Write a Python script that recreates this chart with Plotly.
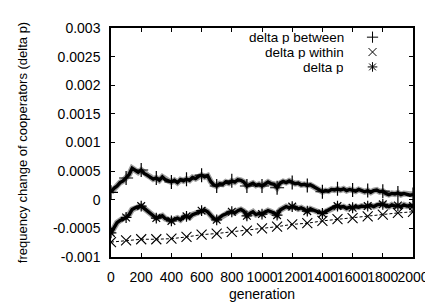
import plotly.graph_objects as go

# ---------------- data ----------------
gen_fine = list(range(0, 2001, 20))
between = [
    0.00013, 0.00020, 0.00024, 0.00030, 0.00033, 0.00038, 0.00044, 0.00055, 0.00052, 0.00048,
    0.00052, 0.00046, 0.00043, 0.00040, 0.00036, 0.00038, 0.00034, 0.00040, 0.00035, 0.00033,
    0.00031, 0.00034, 0.00030, 0.00035, 0.00033, 0.00036, 0.00034, 0.00039, 0.00037, 0.00041,
    0.00043, 0.00040, 0.00042, 0.00032, 0.00026, 0.00024, 0.00028, 0.00027, 0.00031, 0.00029,
    0.00033, 0.00031, 0.00035, 0.00034, 0.00031, 0.00024, 0.00027, 0.00029, 0.00025, 0.00027,
    0.00024, 0.00028, 0.00031, 0.00028, 0.00027, 0.00021, 0.00029, 0.00032, 0.00030, 0.00033,
    0.00030, 0.00028, 0.00029, 0.00026, 0.00027, 0.00025, 0.00026, 0.00023, 0.00020, 0.00016,
    0.00014, 0.00016, 0.00015, 0.00018, 0.00017, 0.00019, 0.00017, 0.00019, 0.00016, 0.00018,
    0.00017, 0.00015, 0.00018, 0.00016, 0.00014, 0.00016, 0.00013, 0.00016, 0.00017, 0.00014,
    0.00015, 0.00011, 0.00009, 0.00011, 0.00010, 0.00012, 0.00009, 0.00011, 0.00010, 0.00008,
    0.00009,
]
delta_p = [
    -0.00058, -0.00048, -0.00040, -0.00036, -0.00033, -0.00031, -0.00026, -0.00017, -0.00014, -0.00012,
    -0.00011, -0.00015, -0.00020, -0.00023, -0.00028, -0.00032, -0.00030, -0.00028, -0.00033, -0.00035,
    -0.00037, -0.00034, -0.00032, -0.00035, -0.00030, -0.00029, -0.00031, -0.00026, -0.00024, -0.00021,
    -0.00019, -0.00018, -0.00021, -0.00028, -0.00033, -0.00035, -0.00031, -0.00027, -0.00025, -0.00022,
    -0.00021, -0.00023, -0.00019, -0.00017, -0.00020, -0.00028, -0.00024, -0.00021, -0.00026, -0.00024,
    -0.00025, -0.00022, -0.00019, -0.00021, -0.00023, -0.00027, -0.00018, -0.00015, -0.00012, -0.00014,
    -0.00012, -0.00013, -0.00016, -0.00014, -0.00017, -0.00020, -0.00016, -0.00018, -0.00021, -0.00023,
    -0.00024, -0.00021, -0.00018, -0.00014, -0.00012, -0.00011, -0.00013, -0.00012, -0.00015, -0.00013,
    -0.00014, -0.00012, -0.00013, -0.00011, -0.00012, -0.00011, -0.00010, -0.00012, -0.00009, -0.00008,
    -0.00008, -0.00010, -0.00012, -0.00009, -0.00011, -0.00010, -0.00012, -0.00009, -0.00011, -0.00010,
    -0.00011,
]
gen_coarse = list(range(0, 2001, 100))
within = [
    -0.00074, -0.00071, -0.00069, -0.00069, -0.00068, -0.00065, -0.00061, -0.00059, -0.00056, -0.00054,
    -0.00050, -0.00047, -0.00043, -0.00041, -0.00037, -0.00034, -0.00032, -0.00029, -0.00026, -0.00023,
    -0.00021,
]
series_names = ["delta p between", "delta p within", "delta p"]
x_ticks = list(range(0, 2001, 200))
y_ticks = [-0.001, -0.0005, 0, 0.0005, 0.001, 0.0015, 0.002, 0.0025, 0.003]
y_tick_text = ["-0.001", "-0.0005", "0", "0.0005", "0.001", "0.0015", "0.002", "0.0025", "0.003"]

FONT = "Liberation Sans, Arial, Helvetica, sans-serif"
step = 5  # every 100 generations within the fine data

sym_between = dict(symbol="cross-thin-open", size=10, color="black", line=dict(color="black", width=1.2))
sym_within = dict(symbol="x-thin-open", size=10, color="black", line=dict(color="black", width=1.1))
sym_delta = dict(symbol="asterisk-open", size=9, color="black", line=dict(color="black", width=1.2))

fig = go.Figure()

# noisy series: gray halo + black core
for ys in (between, delta_p):
    fig.add_trace(go.Scatter(x=gen_fine, y=ys, mode="lines",
                             line=dict(color="#a0a0a0", width=6), showlegend=False, hoverinfo="skip"))
    fig.add_trace(go.Scatter(x=gen_fine, y=ys, mode="lines",
                             line=dict(color="black", width=3.4), showlegend=False))

fig.add_trace(go.Scatter(x=gen_fine[::step], y=between[::step], mode="markers", name=series_names[0],
                         marker=sym_between, showlegend=False))
fig.add_trace(go.Scatter(x=gen_fine[::step], y=delta_p[::step], mode="markers", name=series_names[2],
                         marker=sym_delta, showlegend=False))
fig.add_trace(go.Scatter(x=gen_coarse, y=within, mode="lines+markers", name=series_names[1],
                         line=dict(color="black", width=1, dash="3px,2px"),
                         marker=sym_within, showlegend=False))

# legend (text on the left, symbol on the right, as in gnuplot) on an overlay [0,1] axis
legend_y = [0.960, 0.895, 0.830]
for name, sym, yy in zip(series_names, (sym_between, sym_within, sym_delta), legend_y):
    fig.add_annotation(xref="paper", yref="paper", x=0.778, y=yy, text=name, showarrow=False,
                       xanchor="right", yanchor="middle", height=14,
                       font=dict(family=FONT, size=13.5, color="black"))
    leg_sym = dict(sym, size=8, line=dict(color="black", width=1))
    fig.add_trace(go.Scatter(x=[0.866], y=[yy], xaxis="x2", yaxis="y2", mode="markers",
                             marker=leg_sym, showlegend=False, hoverinfo="skip"))

axis_common = dict(showline=True, linecolor="black", linewidth=1.5, mirror="ticks",
                   ticks="inside", ticklen=4, tickcolor="black", tickwidth=1,
                   showgrid=False, zeroline=False,
                   tickfont=dict(family=FONT, size=14, color="black"))

fig.update_layout(
    width=433, height=304,
    margin=dict(l=103, r=23, t=17, b=47),
    paper_bgcolor="white", plot_bgcolor="white",
    showlegend=False,
    font=dict(family=FONT, size=14, color="black"),
    xaxis=dict(range=[0, 2000], tickmode="array", tickvals=x_ticks, tickangle=0,
               title=dict(text="generation", font=dict(family=FONT, size=14), standoff=6),
               ticklabelstandoff=6, **axis_common),
    yaxis=dict(range=[-0.001, 0.003], tickmode="array", tickvals=y_ticks, ticktext=y_tick_text,
               title=dict(text="frequency change of cooperators (delta p)", font=dict(family=FONT, size=13), standoff=22),
               ticklabelstandoff=6, **axis_common),
    xaxis2=dict(overlaying="x", range=[0, 1], visible=False, fixedrange=True),
    yaxis2=dict(overlaying="y", range=[0, 1], visible=False, fixedrange=True),
)

fig.write_html("out.html")
